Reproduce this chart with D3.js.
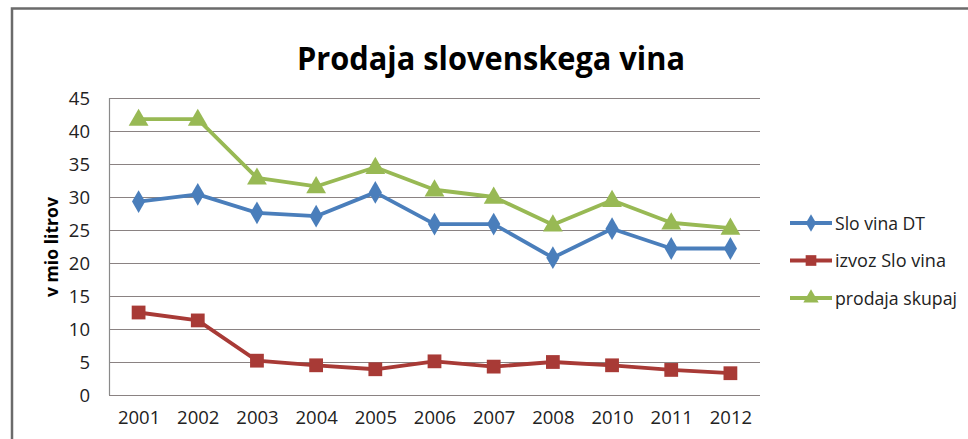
<!DOCTYPE html>
<html>
<head>
<meta charset="utf-8">
<script src="https://cdn.jsdelivr.net/npm/d3@7"></script>
<style>
  body { margin: 0; background: #fff; }
  text { font-family: "Open Sans", sans-serif; fill: #222; }
</style>
</head>
<body>
<div class="wine-chart"></div>
<script>
// podatki odčitani s slike
var years = ["2001","2002","2003","2004","2005","2006","2007","2008","2010","2011","2012"];
var sloVinaDT = [29.3, 30.4, 27.6, 27.1, 30.7, 25.9, 25.9, 20.8, 25.2, 22.2, 22.2];
var izvozSloVina = [12.5, 11.3, 5.2, 4.5, 3.9, 5.1, 4.3, 5.0, 4.5, 3.8, 3.3];
var prodajaSkupaj = [41.8, 41.8, 32.9, 31.6, 34.5, 31.1, 30.0, 25.8, 29.5, 26.1, 25.3];
var yTicks = [0, 5, 10, 15, 20, 25, 30, 35, 40, 45];
var seriesNames = ["Slo vina DT", "izvoz Slo vina", "prodaja skupaj"];

var width = 968, height = 439;
var colors = ["#4a7ebb", "#a83a36", "#98b954"];
var symbols = [d3.symbolDiamond, d3.symbolSquare, d3.symbolTriangle];
var symSizes = [150, 190, 170];

var series = [sloVinaDT, izvozSloVina, prodajaSkupaj].map(function(vals, i){
	return { name: seriesNames[i], values: vals, color: colors[i], symbol: symbols[i], size: symSizes[i] };
});

var svg = d3.select(".wine-chart")
	.append("svg")
	.attr("width", width)
	.attr("height", height);

// okvir
svg.append("path")
	.attr("d", "M12,445 L12,8.5 L975,8.5")
	.attr("fill", "none")
	.attr("stroke", "#6b6b6b")
	.attr("stroke-width", 2.5);

var plot = { left: 109, right: 760, top: 98, bottom: 395 };

var x = d3.scalePoint()
	.domain(years)
	.range([plot.left, plot.right])
	.padding(0.5);

var y = d3.scaleLinear()
	.domain([0, 45])
	.range([plot.bottom, plot.top]);

// mreža
svg.append("g")
	.selectAll("line")
	.data(yTicks)
	.enter()
	.append("line")
	.attr("x1", plot.left)
	.attr("x2", plot.right)
	.attr("y1", function(d){ return Math.round(y(d)) + 0.5; })
	.attr("y2", function(d){ return Math.round(y(d)) + 0.5; })
	.style("stroke", "#8a8282")
	.style("stroke-width", "1.2px");

svg.append("line")
	.attr("x1", plot.left + 0.5).attr("x2", plot.left + 0.5)
	.attr("y1", plot.top).attr("y2", plot.bottom)
	.style("stroke", "#8a8a8a")
	.style("stroke-width", "1.2px");

// osi
var yAxis = svg.append("g")
	.attr("transform", "translate(" + plot.left + ",0)")
	.call(d3.axisLeft(y).tickValues(yTicks).tickSize(0).tickPadding(19));
yAxis.select(".domain").remove();
yAxis.selectAll("text")
	.style("font-size", "18.5px")
	.style("font-family", "Open Sans, sans-serif")
	.attr("fill", "#222")
	.attr("dy", "0.35em");

var xAxis = svg.append("g")
	.attr("transform", "translate(0," + plot.bottom + ")")
	.call(d3.axisBottom(x).tickSize(0).tickPadding(16));
xAxis.select(".domain").remove();
xAxis.selectAll("text")
	.style("font-size", "18.5px")
	.style("font-family", "Open Sans, sans-serif")
	.attr("fill", "#222");

// črte
var line = d3.line()
	.x(function(d, i){ return x(years[i]); })
	.y(function(d){ return y(d); });

var g = svg.selectAll(".series")
	.data(series)
	.enter()
	.append("g")
	.attr("class", "series");

g.append("path")
	.attr("d", function(s){ return line(s.values); })
	.attr("fill", "none")
	.attr("stroke", function(s){ return s.color; })
	.attr("stroke-width", 3.8)
	.attr("stroke-linejoin", "round");

g.each(function(s){
	d3.select(this).selectAll("path.mark")
		.data(s.values)
		.enter()
		.append("path")
		.attr("class", "mark")
		.attr("d", d3.symbol().type(s.symbol).size(s.size))
		.attr("transform", function(d, i){
			var dy = s.symbol === d3.symbolTriangle ? 1 : 0;
			return "translate(" + x(years[i]) + "," + (y(d) + dy) + ")";
		})
		.attr("fill", s.color);
});

// naslov
svg.append("text")
	.attr("x", 491)
	.attr("y", 70)
	.attr("text-anchor", "middle")
	.attr("textLength", 388)
	.attr("lengthAdjust", "spacingAndGlyphs")
	.style("font-size", "32px")
	.style("font-weight", "bold")
	.style("fill", "#000")
	.text("Prodaja slovenskega vina");

svg.append("text")
	.attr("transform", "translate(58,247) rotate(-90)")
	.attr("text-anchor", "middle")
	.attr("textLength", 100)
	.attr("lengthAdjust", "spacingAndGlyphs")
	.style("font-size", "18px")
	.style("font-weight", "bold")
	.style("fill", "#000")
	.text("v mio litrov");

// legenda
var legend = svg.selectAll(".legend")
	.data(series)
	.enter()
	.append("g")
	.attr("class", "legend")
	.attr("transform", function(d, i){ return "translate(790," + (223 + i * 37.5) + ")"; });

legend.append("line")
	.attr("x1", 0).attr("x2", 42)
	.attr("stroke", function(d){ return d.color; })
	.attr("stroke-width", 3.8);

legend.append("path")
	.attr("d", function(d){ return d3.symbol().type(d.symbol).size(d.size * 0.6)(); })
	.attr("transform", "translate(21,0)")
	.attr("fill", function(d){ return d.color; });

legend.append("text")
	.attr("x", 45)
	.attr("dy", "0.35em")
	.attr("textLength", function(d, i){ return [90, 111, 122][i]; })
	.attr("lengthAdjust", "spacingAndGlyphs")
	.style("font-size", "19px")
	.text(function(d){ return d.name; });
</script>
</body>
</html>
